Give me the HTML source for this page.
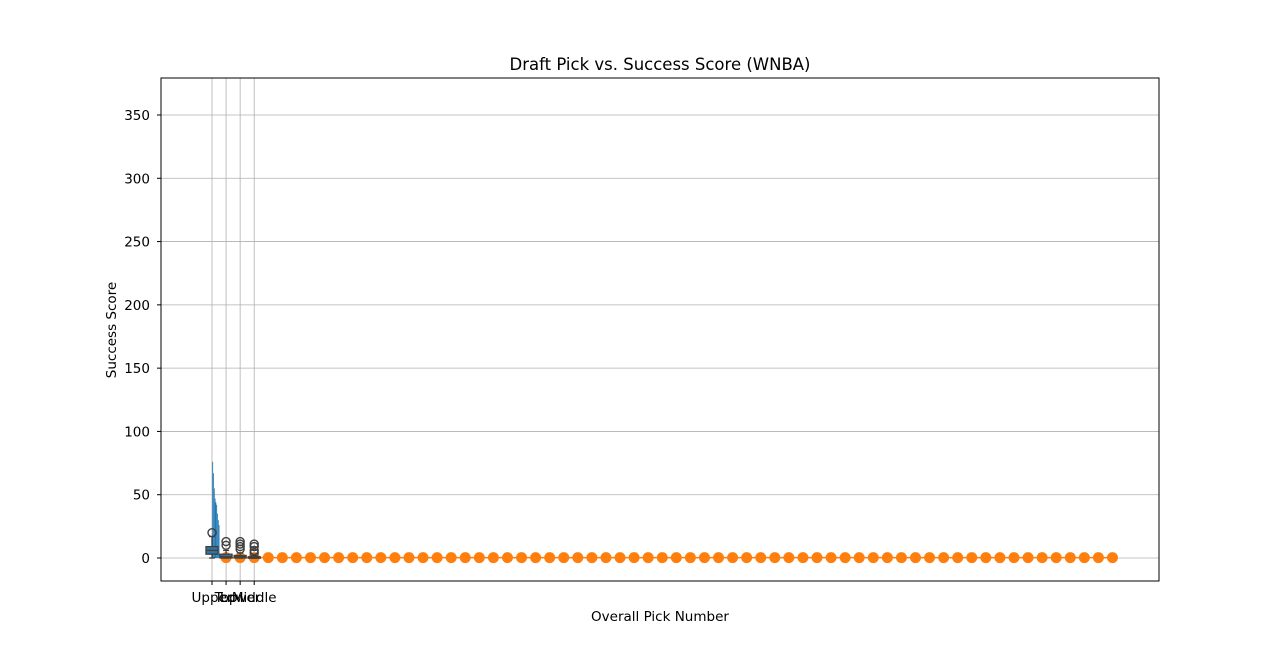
<!DOCTYPE html>
<html><head><meta charset="utf-8"><style>
body{margin:0;background:#fff;font-family:"DejaVu Sans","Liberation Sans",sans-serif;}
</style></head><body>
<svg id="chart" width="1288" height="653" xmlns="http://www.w3.org/2000/svg" font-family="DejaVu Sans, Liberation Sans, sans-serif">
<rect width="1288" height="653" fill="#fff"/>
<g id="grid"></g>
<g id="marks"></g>
<rect x="161" y="78" width="998" height="503" fill="none" stroke="#000" stroke-width="1"/>
<g id="axes"></g>
<text x="660" y="70" font-size="16.5" text-anchor="middle">Draft Pick vs. Success Score (WNBA)</text>
<text x="660" y="621" font-size="13.5" text-anchor="middle">Overall Pick Number</text>
<text x="0" y="0" font-size="13.5" text-anchor="middle" transform="translate(116,330) rotate(-90)">Success Score</text>
</svg>
<script>
const yTicks=[0,50,100,150,200,250,300,350];
const categories=["Upper","Top","Lower","Middle"];
const boxQ1=[3,0,0,0];
const boxMed=[6,1,1,0.5];
const boxQ3=[9,3,2,1];
const whiskLo=[0,0,0,0];
const whiskHi=[17,6,4,2];
const outliers=[[20],[10,13],[7,9,11,13],[4,6,9,11]];
const barValues=[76,67,55,47,44,42,35,30,26];
const pickNumbers=[];for(let i=1;i<=64;i++)pickNumbers.push(i);
const pickScores=pickNumbers.map(()=>0.3);

const NS="http://www.w3.org/2000/svg";
const X0=212,DX=14.07,Y0=558,SY=(558-115)/350;
const xs=i=>X0+DX*i;
const ys=v=>Y0-v*SY;
function mk(tag,attrs,parent){const e=document.createElementNS(NS,tag);for(const k in attrs)e.setAttribute(k,attrs[k]);document.getElementById(parent).appendChild(e);return e;}

yTicks.forEach(t=>{
 const g=mk('line',{x1:161,x2:1159,y1:ys(t),y2:ys(t),stroke:'#b0b0b0','stroke-width':0.8},'grid');
 
 
 const tk=mk('line',{x1:157,x2:161,y1:ys(t),y2:ys(t),stroke:'#000'},'axes');
 
 
 const tx=mk('text',{x:150,y:ys(t)+5,'font-size':13.5,'text-anchor':'end'},'axes');
 tx.textContent=t;
 
 
});
categories.forEach((c,i)=>{
 const g=mk('line',{x1:xs(i),x2:xs(i),y1:78,y2:581,stroke:'#b0b0b0','stroke-width':0.8},'grid');
 
 
 const tk=mk('line',{x1:xs(i),x2:xs(i),y1:581,y2:585,stroke:'#000'},'axes');
 
 
 const tx=mk('text',{x:xs(i),y:602,'font-size':13.5,'text-anchor':'middle'},'axes');
 tx.textContent=c;
 
 
});
let d='';pickNumbers.forEach((p,i)=>{d+=(i?'L':'M')+xs(p)+','+ys(pickScores[i]);});
const pl=mk('path',{d:d,stroke:'#ff7f0e','stroke-width':1.5,fill:'none'},'marks');


pickNumbers.forEach((p,i)=>{
 const c=mk('circle',{cx:xs(p),cy:ys(pickScores[i]),r:5.5,fill:'#ff7f0e'},'marks');
 
 
});
barValues.forEach((v,i)=>{
 const b=mk('rect',{x:212.3+i*0.8,y:ys(v),width:0.8,height:ys(0)-ys(v),fill:'#1f77b4'},'marks');
 
 
});
categories.forEach((c,i)=>{
 const x=xs(i),w=12,col='#3f3f3f';
 const wl=mk('line',{x1:x,x2:x,y1:ys(whiskLo[i]),y2:ys(boxQ1[i]),stroke:col,'stroke-width':1.3},'marks');
 
 
 const wh=mk('line',{x1:x,x2:x,y1:ys(boxQ3[i]),y2:ys(whiskHi[i]),stroke:col,'stroke-width':1.3},'marks');
 
 
 [whiskLo[i],whiskHi[i]].forEach(v=>{
  const cap=mk('line',{x1:x-w/4,x2:x+w/4,y1:ys(v),y2:ys(v),stroke:col,'stroke-width':1.3},'marks');
  
  
 });
 const b=mk('rect',{x:x-w/2,y:ys(boxQ3[i]),width:w,height:Math.max(1.5,ys(boxQ1[i])-ys(boxQ3[i])),fill:'#3274a1',stroke:col,'stroke-width':1.3},'marks');
 
 
 const m=mk('line',{x1:x-w/2,x2:x+w/2,y1:ys(boxMed[i]),y2:ys(boxMed[i]),stroke:col,'stroke-width':1.3},'marks');
 
 
 outliers[i].forEach(v=>{
  const o=mk('circle',{cx:x,cy:ys(v),r:4,fill:'none',stroke:col,'stroke-width':1.4},'marks');
  
  
 });
});
</script>
</body></html>
